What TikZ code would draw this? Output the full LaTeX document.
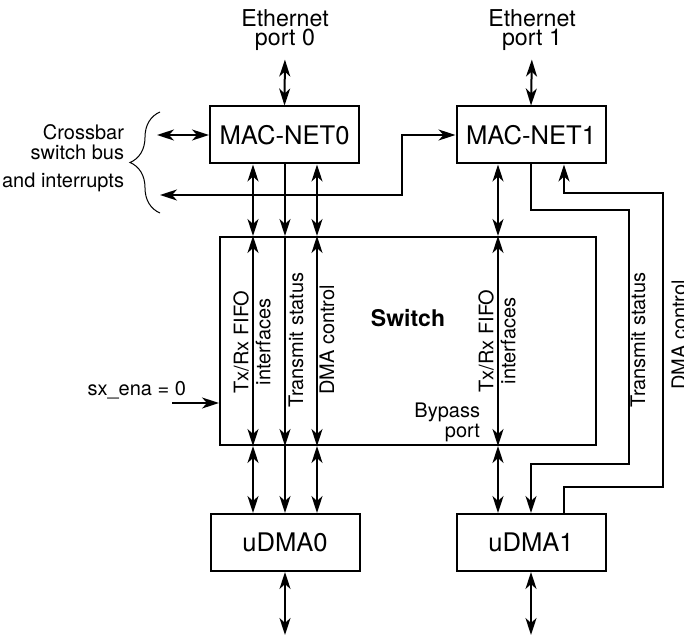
\documentclass[tikz,border=0pt]{standalone}
\usepackage{fontspec}
\setmainfont{TeX Gyre Heros}
\usetikzlibrary{arrows.meta,decorations.pathreplacing}

\begin{document}
\begin{tikzpicture}[
  x=0.5pt, y=-0.5pt,
  line width=1pt,
  >={Stealth[length=8.5pt, width=5.5pt, inset=2.5pt]},
  blk/.style={draw, line width=1pt, inner sep=0pt, minimum width=74.5pt,
              minimum height=28.5pt, font=\fontsize{12.8}{15}\selectfont},
  port/.style={align=center, inner sep=0pt, font=\fontsize{11.6}{9.6}\selectfont},
  lbl/.style={inner sep=0pt, font=\fontsize{10}{10}\selectfont},
  vlbl/.style={lbl, rotate=90, align=center, font=\fontsize{10}{11}\selectfont},
  bi/.style={<->},
  e/.style={->}]

% pixel grid of the reference, y runs down
\useasboundingbox (0,0) rectangle (684,636);

\node[port] (eth0) at (285,30) {Ethernet\\port 0};
\node[port] (eth1) at (532,30) {Ethernet\\port 1};

\node[blk] (mac0) at (284.5,135) {MAC-NET0};
\node[blk] (mac1) at (531,135) {MAC-NET1};

\node[draw, line width=1pt, inner sep=0pt, minimum width=188pt,
      minimum height=104pt] (sw) at (408,341) {};
\node[font=\bfseries\fontsize{11.5}{12}\selectfont] (swl) at (408,318) {Switch};

\node[blk] (udma0) at (285,542.5) {uDMA0};
\node[blk] (udma1) at (531,542.5) {uDMA1};

% columns of the signal lines
\coordinate (fa) at (253,0);
\coordinate (ts) at (285,0);
\coordinate (dc) at (317,0);
\coordinate (fb) at (498,0);
\coordinate (dm) at (564,0);

\coordinate (bus) at (157,135);
\coordinate (irq) at (160,195);
\coordinate (ena) at (172,403);
\coordinate (out0) at (285,635);
\coordinate (out1) at (531,635);

% --------------------------------- crossbar side ---
\draw[decorate, decoration={brace, amplitude=15pt}, line width=0.5pt]
      (160,213) -- (160,112);
\node[lbl, align=right, anchor=east] (xbar) at (125,142) {Crossbar\\switch bus};
\node[lbl, anchor=base east] (xirq) at (125,188) {and interrupts};
\node[lbl, anchor=base east] (sxena) at (187,395) {sx\_ena = 0};

\node[vlbl] (fifo0) at (252,342) {Tx/Rx FIFO\\interfaces};
\node[vlbl] (tst0) at (296,340) {Transmit status};
\node[vlbl] (dmc0) at (327,340) {DMA control};
\node[vlbl] (fifo1) at (497,341) {Tx/Rx FIFO\\interfaces};
\node[lbl, align=right, anchor=east] (byp) at (481,422.5) {Bypass\\port};
\node[vlbl] (tst1) at (638,340) {Transmit status};
\node[vlbl] (dmc1) at (679,335) {DMA control};

\draw[bi, shorten <=4pt] (eth0.south) -- (mac0.north);
\draw[bi, shorten <=4pt] (eth1.south) -- (mac1.north);
\draw[bi] (bus) -- (mac0.west);
\draw[bi] (irq) -- (402,195) |- (mac1.west);
\draw[e] (ena) -- (ena -| sw.west);

\foreach \c/\s in {fa/bi, ts/e, dc/bi} {
  \draw[\s] (mac0.south -| \c) -- (sw.north -| \c);
  \draw[\s] (sw.north -| \c) -- (sw.south -| \c);
  \draw[\s] (sw.south -| \c) -- (udma0.north -| \c);
}
\draw[bi] (mac1.south -| fb) -- (sw.north -| fb);
\draw[bi] (sw.north -| fb) -- (sw.south -| fb);
\draw[bi] (sw.south -| fb) -- (udma1.north -| fb);

% --------------------------------- the lines round the switch ---
\draw[e] (mac1.south) -- (531,210) -| (629,464) -| (udma1.north);
\draw[e] (udma1.north -| dm) |- (663,487) |- (564,193) -- (mac1.south -| dm);

\draw[bi] (udma0) -- (out0);
\draw[bi] (udma1) -- (out1);

\end{tikzpicture}
\end{document}
